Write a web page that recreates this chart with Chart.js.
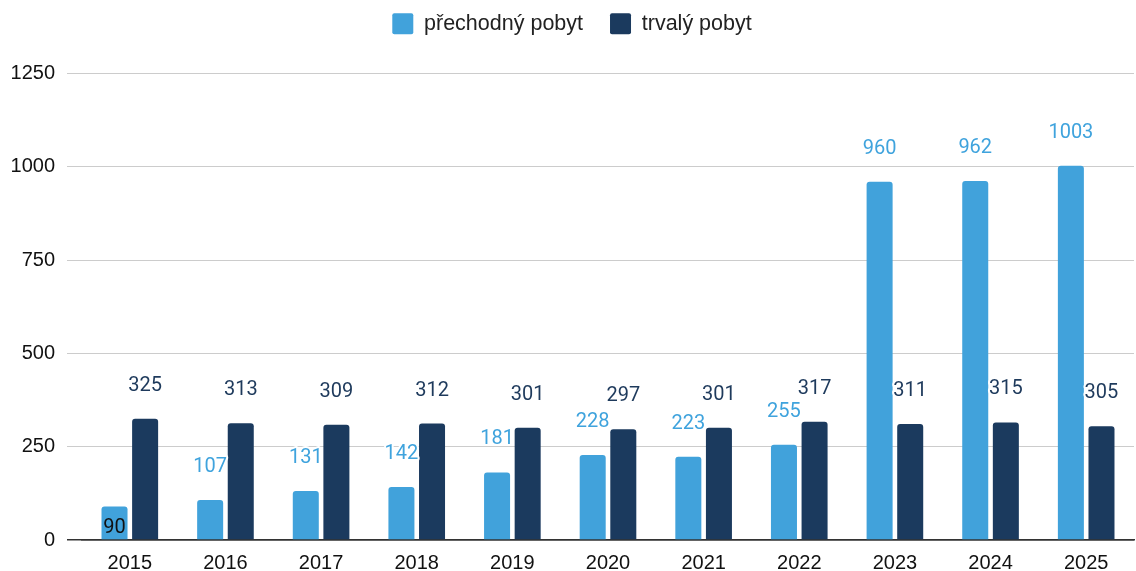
<!DOCTYPE html>
<html>
<head>
<meta charset="utf-8">
<script src="https://cdn.jsdelivr.net/npm/chart.js@4"></script>
<style>
    html, body { margin: 0; padding: 0; background: #fff; }
    #wrap { width: 1136px; height: 571px; position: relative; }
</style>
</head>
<body>
<div id="wrap"><canvas id="chart"></canvas></div>
<script>
// Data
const years = ['2015', '2016', '2017', '2018', '2019', '2020', '2021', '2022', '2023', '2024', '2025'];
const prechodny = [90, 107, 131, 142, 181, 228, 223, 255, 960, 962, 1003];
const trvaly = [325, 313, 309, 312, 301, 297, 301, 317, 311, 315, 305];
const seriesNames = ['přechodný pobyt', 'trvalý pobyt'];
const yTicks = [0, 250, 500, 750, 1000, 1250];

const lightBlue = '#41a2db';
const darkBlue = '#1b3a5e';
const LEGEND_GAP = 29; // extra room under the legend

// Value labels above bars, with a white halo
const valueLabels = {
    id: 'valueLabels',
    afterDatasetsDraw(chart) {
        const ctx = chart.ctx;
        ctx.save();
        ctx.font = '20px Roboto';
        ctx.textAlign = 'center';
        ctx.textBaseline = 'middle';
        ctx.lineJoin = 'round';
        chart.data.datasets.forEach((ds, i) => {
            const meta = chart.getDatasetMeta(i);
            meta.data.forEach((bar, j) => {
                const v = ds.data[j];
                // tiny bar: label goes inside, dark, no halo
                if (v < 100) {
                    ctx.fillStyle = '#111';
                    ctx.fillText(String(v), bar.x, bar.y + 22);
                    return;
                }
                const y = bar.y - 33;
                ctx.strokeStyle = '#fff';
                ctx.lineWidth = 4;
                ctx.strokeText(String(v), bar.x, y);
                ctx.fillStyle = ds.labelColor;
                ctx.fillText(String(v), bar.x, y);
            });
        });
        ctx.restore();
    }
};

// push the plot down below the legend
const legendSpacer = {
    id: 'legendSpacer',
    beforeInit(chart) {
        const fit = chart.legend.fit;
        chart.legend.fit = function () {
            fit.bind(this)();
            this.height += LEGEND_GAP;
        };
    }
};

new Chart(document.getElementById('chart'), {
    type: 'bar',
    data: {
        labels: years,
        datasets: [
            {
                label: seriesNames[0],
                data: prechodny,
                backgroundColor: lightBlue,
                labelColor: '#3fa3dd',
                borderRadius: 3,
                borderSkipped: 'bottom'
            },
            {
                label: seriesNames[1],
                data: trvaly,
                backgroundColor: darkBlue,
                labelColor: '#1e3a5c',
                borderRadius: 3,
                borderSkipped: 'bottom'
            }
        ]
    },
    options: {
        responsive: true,
        maintainAspectRatio: false,
        animation: false,
        categoryPercentage: 0.64,
        barPercentage: 0.85,
        layout: { padding: { left: 10, right: 2, top: -14, bottom: 0 } },
        plugins: {
            legend: {
                position: 'top',
                labels: {
                    boxWidth: 21,
                    boxHeight: 21,
                    useBorderRadius: true,
                    borderRadius: 2,
                    padding: 27,
                    color: '#222',
                    font: { family: 'Liberation Sans', size: 21.5 }
                }
            },
            tooltip: { enabled: false }
        },
        scales: {
            x: {
                afterFit: (scale) => { scale.height = 31; },
                grid: { display: false, drawTicks: false },
                border: { color: '#333', width: 1.5 },
                ticks: { color: '#111', padding: 11, font: { family: 'Liberation Sans', size: 20 } }
            },
            y: {
                min: 0,
                max: 1250,
                afterBuildTicks: (axis) => { axis.ticks = yTicks.map(v => ({ value: v })); },
                afterFit: (scale) => { scale.width = 72; },
                border: { display: false },
                grid: {
                    color: (c) => c.tick && c.tick.value === 0 ? '#333' : '#cccccc',
                    lineWidth: (c) => c.tick && c.tick.value === 0 ? 1.5 : 1,
                    tickLength: 15
                },
                ticks: {
                    color: '#111',
                    padding: 12,
                    font: { family: 'Liberation Sans', size: 20 },
                    callback: (v) => String(v)
                }
            }
        }
    },
    plugins: [valueLabels, legendSpacer]
});
</script>
</body>
</html>
